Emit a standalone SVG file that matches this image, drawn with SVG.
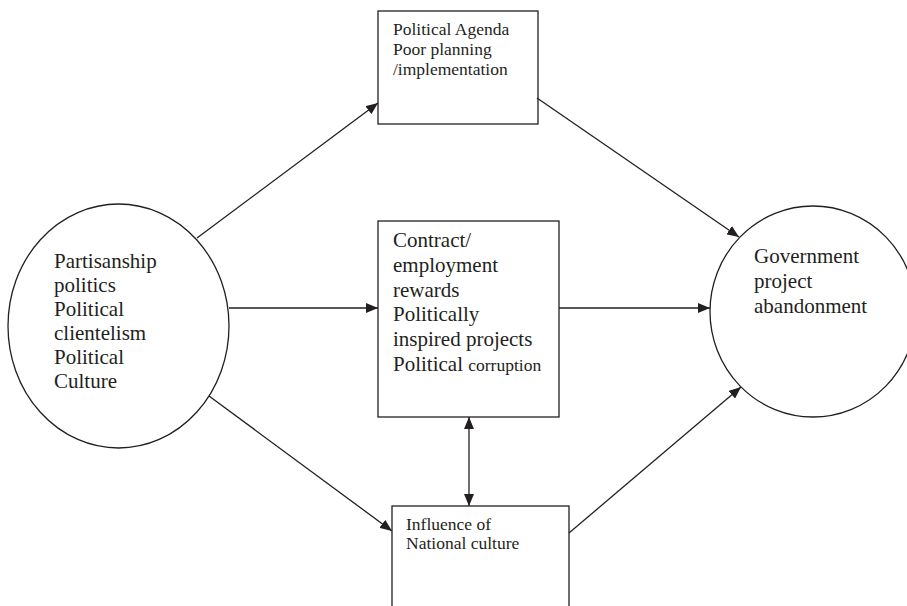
<svg xmlns="http://www.w3.org/2000/svg" width="907" height="606" viewBox="0 0 907 606">
<defs>
<style>
.shape{fill:#fff;stroke:#231f20;stroke-width:1.3}
.conn{stroke:#231f20;stroke-width:1.3;fill:none}
text{font-family:'Liberation Serif','DejaVu Serif',serif;fill:#231f20}
.big{font-size:21px}
.small{font-size:17.5px}
</style>
<marker id="ah" viewBox="0 0 12 10" refX="12" refY="5" markerWidth="12" markerHeight="10" markerUnits="userSpaceOnUse" orient="auto-start-reverse">
<path d="M0,0 L12,5 L0,10 Z" fill="#231f20"/>
</marker>
</defs>
<rect width="907" height="606" fill="#fff"/>
<g id="node-left">
<ellipse class="shape" cx="118.5" cy="326" rx="110.5" ry="122"/>
<text class="big" font-family="Liberation Serif, DejaVu Serif, serif"><tspan x="54" y="268">Partisanship</tspan><tspan x="54" y="292">politics</tspan><tspan x="54" y="316">Political</tspan><tspan x="54" y="340">clientelism</tspan><tspan x="54" y="364">Political</tspan><tspan x="54" y="388">Culture</tspan></text>
</g>
<g id="node-top">
<rect class="shape" x="378" y="11" width="160" height="113"/>
<text class="small" font-family="Liberation Serif, DejaVu Serif, serif"><tspan x="393" y="35">Political Agenda</tspan><tspan x="393" y="55">Poor planning</tspan><tspan x="393" y="75">/implementation</tspan></text>
</g>
<g id="node-middle">
<rect class="shape" x="378" y="221" width="181" height="196"/>
<text class="big" font-family="Liberation Serif, DejaVu Serif, serif"><tspan x="393" y="247">Contract/</tspan><tspan x="393" y="272">employment</tspan><tspan x="393" y="297">rewards</tspan><tspan x="393" y="321">Politically</tspan><tspan x="393" y="346">inspired projects</tspan><tspan x="393" y="371">Political <tspan class="small">corruption</tspan></tspan></text>
</g>
<g id="node-bottom">
<rect class="shape" x="392" y="506" width="177" height="110"/>
<text class="small" font-family="Liberation Serif, DejaVu Serif, serif"><tspan x="406" y="530">Influence of</tspan><tspan x="406" y="549">National culture</tspan></text>
</g>
<g id="node-right">
<ellipse class="shape" cx="813" cy="311.5" rx="103" ry="105.5"/>
<text class="big" font-family="Liberation Serif, DejaVu Serif, serif"><tspan x="754" y="263">Government</tspan><tspan x="754" y="288">project</tspan><tspan x="754" y="313">abandonment</tspan></text>
</g>
<g id="connectors">
<line class="conn" x1="197" y1="238" x2="378" y2="103" marker-end="url(#ah)"/>
<line class="conn" x1="229" y1="308" x2="378" y2="308" marker-end="url(#ah)"/>
<line class="conn" x1="209" y1="396" x2="392" y2="531" marker-end="url(#ah)"/>
<line class="conn" x1="537" y1="98" x2="739" y2="237" marker-end="url(#ah)"/>
<line class="conn" x1="559" y1="308" x2="710" y2="308" marker-end="url(#ah)"/>
<line class="conn" x1="569" y1="533" x2="741" y2="387" marker-end="url(#ah)"/>
<line class="conn" x1="469" y1="417" x2="469" y2="506" marker-start="url(#ah)" marker-end="url(#ah)"/>
</g>
</svg>
